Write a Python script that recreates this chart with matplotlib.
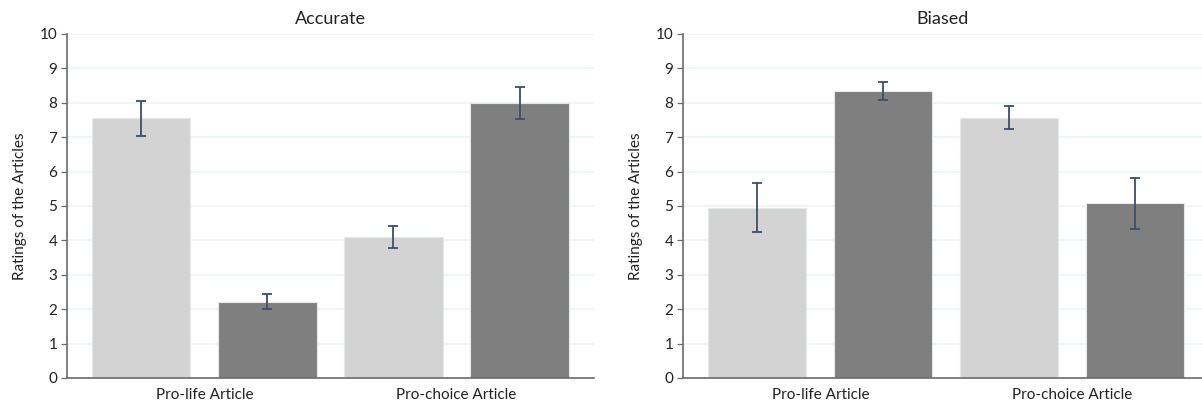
import numpy as np
import matplotlib
matplotlib.use("Agg")
import matplotlib.pyplot as plt

plt.rcParams['font.family'] = ['Lato', 'DejaVu Sans']

groups = ["Pro-life Article", "Pro-choice Article"]

accurate_vals = [7.55, 2.22, 4.10, 7.99]
accurate_err = [0.51, 0.22, 0.32, 0.46]

biased_vals = [4.95, 8.34, 7.57, 5.08]
biased_err = [0.72, 0.25, 0.33, 0.74]

bar_colors = ["#d3d3d3", "#7f7f7f", "#d3d3d3", "#7f7f7f"]
err_color = "#3e4d6e"
grid_color = "#eef3f3"
spine_color = "#6b6b6b"


def draw_panel(ax, vals, errs, title, xlim):
    x = np.arange(len(vals))
    ax.bar(x, vals, width=0.78, color=bar_colors, edgecolor="#e3e8e8",
           linewidth=0.8, zorder=2)
    ax.errorbar(x, vals, yerr=errs, fmt="none", ecolor=err_color,
                elinewidth=1.3, capsize=3.5, capthick=1.3, zorder=3)
    ax.set_ylim(0, 10)
    ax.set_xlim(*xlim)
    ax.set_yticks(range(0, 11))
    ax.set_xticks([0.5, 2.5])
    ax.set_xticklabels(groups, fontsize=11, color="#222222")
    ax.tick_params(axis="x", length=0, pad=7)
    ax.tick_params(axis="y", length=4, width=0.9, color=spine_color,
                   labelsize=11, labelcolor="#222222", pad=3)
    ax.yaxis.grid(True, color=grid_color, linewidth=1.2, zorder=0)
    ax.set_axisbelow(True)
    for s in ["top", "right"]:
        ax.spines[s].set_visible(False)
    for s in ["left", "bottom"]:
        ax.spines[s].set_color(spine_color)
        ax.spines[s].set_linewidth(1.2)
    ax.set_ylabel("Ratings of the Articles", fontsize=11, color="#222222",
                  labelpad=9)
    ax.set_title(title, fontsize=13, color="#222222", pad=7)


fig = plt.figure(figsize=(12.02, 4.04), dpi=100)
ax1 = fig.add_axes([0.0557, 0.0644, 0.4384, 0.8515])
ax2 = fig.add_axes([0.5682, 0.0644, 0.4318, 0.8515])

draw_panel(ax1, accurate_vals, accurate_err, "Accurate", (-0.59, 3.59))
draw_panel(ax2, biased_vals, biased_err, "Biased", (-0.59, 3.53))

fig.savefig("out.png", dpi=100)
